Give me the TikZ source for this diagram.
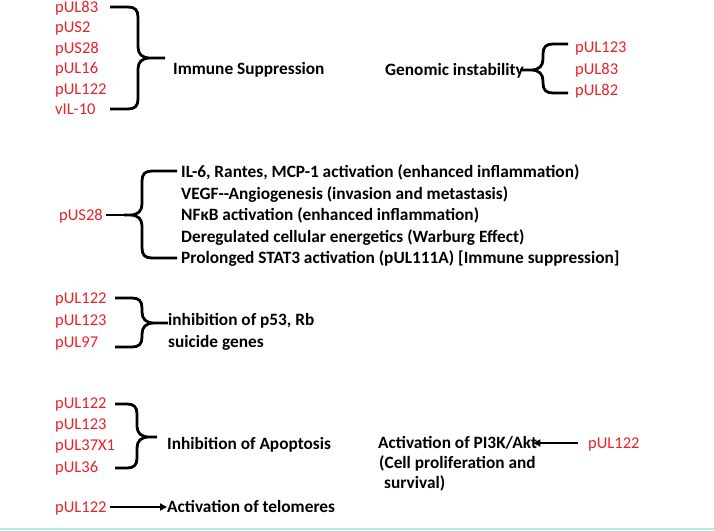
\documentclass[tikz,border=0pt]{standalone}
\usepackage{fontspec}
\setmainfont{Carlito}
\usetikzlibrary{arrows.meta}
\definecolor{genered}{RGB}{232,34,40}
\definecolor{linecyan}{RGB}{170,240,240}
\tikzset{
  gene/.style={anchor=west, inner sep=0pt, text=genered, font=\fontsize{16.5}{19}\selectfont, text height=10.5pt, text depth=0pt},
  effect/.style={anchor=west, inner sep=0pt, font=\bfseries\fontsize{17.3}{20}\selectfont, text height=11pt, text depth=0pt},
  bracestroke/.style={line width=2.8pt, line join=round},
  arrowline/.style={line width=1.8pt, -{Triangle[length=7pt,width=7pt]}}
}
% x0, xv, xt, yt, ym, yb, direction sign
\newcommand\curlybrace[7]{%
  \draw[bracestroke] (#1,#4) -- ({#2-(#7)*10},#4) .. controls ({#2-(#7)*3},#4) and (#2,{#4+3}) .. (#2,{#4+10})
    -- (#2,{#5-11}) .. controls (#2,{#5-4}) and ({#2+(#7)*4},#5) .. ({#2+(#7)*12},#5) -- (#3,#5)
    ({#2+(#7)*12},#5) .. controls ({#2+(#7)*4},#5) and (#2,{#5+4}) .. (#2,{#5+11})
    -- (#2,{#6-10}) .. controls (#2,{#6-3}) and ({#2-(#7)*3},#6) .. ({#2-(#7)*10},#6) -- (#1,#6);}
\begin{document}
\begin{tikzpicture}[x=1pt,y=-1pt]
\useasboundingbox (0,0) rectangle (714,530);
\fill[white] (0,0) rectangle (714,530);
\draw[linecyan, line width=2pt] (0,529) -- (714,529);

% Immune suppression
\node[gene] (g1a) at (55,7) {pUL83};
\node[gene] (g1b) at (55,27.5) {pUS2};
\node[gene] (g1c) at (55,48) {pUS28};
\node[gene] (g1d) at (55,68.5) {pUL16};
\node[gene] (g1e) at (55,89) {pUL122};
\node[gene] (g1f) at (55,109.5) {vIL-10};
\curlybrace{110}{138}{165}{7}{58}{109}{1}
\node[effect] (immune) at (173,69) {Immune Suppression};

% Genomic instability
\node[effect] (genomic) at (385,70) {Genomic instability};
\curlybrace{568}{543}{520}{44}{70}{93}{-1}
\node[gene] (g2a) at (575,47) {pUL123};
\node[gene] (g2b) at (575,69) {pUL83};
\node[gene] (g2c) at (575,90) {pUL82};

% pUS28
\node[gene] (us28) at (59,215) {pUS28};
\coordinate (b3tip) at (124,215);
\draw[bracestroke] ([xshift=3pt]us28.east) -- (b3tip);
\curlybrace{177}{142}{124}{171}{215}{258}{-1}
\node[effect] (e3a) at (181,172) {IL-6, Rantes, MCP-1 activation (enhanced inflammation)};
\node[effect] (e3b) at (181,193.5) {VEGF-{}-Angiogenesis (invasion and metastasis)};
\node[effect] (e3c) at (181,215) {NFκB activation (enhanced inflammation)};
\node[effect] (e3d) at (181,236.5) {Deregulated cellular energetics (Warburg Effect)};
\node[effect] (e3e) at (181,258) {Prolonged STAT3 activation (pUL111A) [Immune suppression]};

% p53 / Rb
\node[gene] (g4a) at (55,298) {pUL122};
\node[gene] (g4b) at (55,320) {pUL123};
\node[gene] (g4c) at (55,342) {pUL97};
\curlybrace{115}{142}{168}{298}{323}{347}{1}
\node[effect] (p53a) at (168,320) {inhibition of p53, Rb};
\node[effect] (p53b) at (168,342) {suicide genes};

% Apoptosis
\node[gene] (g5a) at (55,403) {pUL122};
\node[gene] (g5b) at (55,424) {pUL123};
\node[gene] (g5c) at (55,445) {pUL37X1};
\node[gene] (g5d) at (55,467) {pUL36};
\curlybrace{115}{137}{157}{404}{437}{468}{1}
\node[effect] (apop) at (167,444) {Inhibition of Apoptosis};

% Telomeres
\node[gene] (g6) at (55,507) {pUL122};
\node[effect] (telo) at (167,507) {Activation of telomeres};
\draw[arrowline] ([xshift=3pt]g6.east) -- (telo.west);

% PI3K/Akt
\node[effect] (pi3a) at (378,443) {Activation of PI3K/Akt};
\node[effect] (pi3b) at (379,463) {(Cell proliferation and};
\node[effect] (pi3c) at (384,483) {survival)};
\node[gene] (g7) at (588,443) {pUL122};
\draw[arrowline] ([xshift=-10pt]g7.west) -- ([xshift=-4pt]pi3a.east);
\end{tikzpicture}
\end{document}
